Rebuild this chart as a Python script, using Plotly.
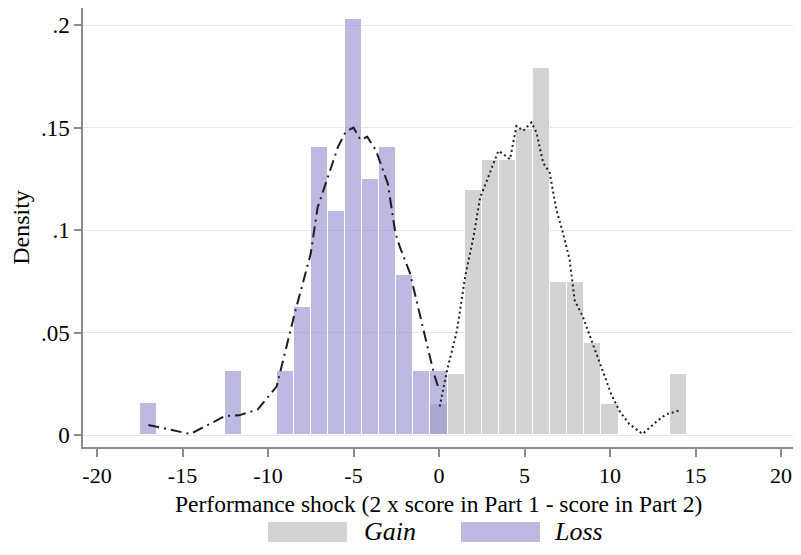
import plotly.graph_objects as go

# histogram bins (bin width 1, centred on integers) and densities
gain_x = [0, 1, 2, 3, 4, 5, 6, 7, 8, 9, 10, 14]
gain_y = [0.0149, 0.0299, 0.1194, 0.1343, 0.1343, 0.1493, 0.1791, 0.0746, 0.0746, 0.0448, 0.0149, 0.0299]

loss_x = [-17, -12, -9, -8, -7, -6, -5, -4, -3, -2, -1, 0]
loss_y = [0.0156, 0.0313, 0.0313, 0.0625, 0.1406, 0.1094, 0.2031, 0.125, 0.1406, 0.0781, 0.0313, 0.0313]

# kernel density curves
loss_kx = [-17.0, -14.55, -12.5, -11.7, -10.6, -9.5, -8.45, -7.5, -7.1, -6.5, -5.9, -5.45,
           -5.0, -4.6, -4.2, -3.7, -3.0, -2.55, -2.3, -1.7, -0.9, -0.3, 0.0]
loss_ky = [0.0049, 0.0005, 0.0093, 0.0096, 0.0125, 0.0236, 0.059, 0.0886, 0.111, 0.126, 0.1407, 0.148,
           0.150, 0.144, 0.1455, 0.139, 0.1228, 0.0984, 0.092, 0.079, 0.051, 0.030, 0.022]

gain_kx = [0.04, 0.47, 1.05, 1.53, 2.02, 2.40, 2.79, 3.47, 3.76, 4.15, 4.53, 4.92, 5.41, 5.70, 6.09,
           6.47, 6.86, 7.25, 7.64, 7.93, 8.41, 8.99, 9.58, 10.06, 10.54, 11.12, 11.90, 12.67, 13.26, 14.03]
gain_ky = [0.0139, 0.0315, 0.051, 0.0773, 0.0969, 0.1157, 0.1239, 0.1386, 0.137, 0.1345, 0.1508, 0.1484,
           0.1525, 0.1475, 0.1328, 0.128, 0.110, 0.0985, 0.0855, 0.0658, 0.0577, 0.0446, 0.0315, 0.0201,
           0.0119, 0.0054, 0.0005, 0.0062, 0.010, 0.0119]

x_ticks = [-20, -15, -10, -5, 0, 5, 10, 15, 20]
x_labels = ["-20", "-15", "-10", "-5", "0", "5", "10", "15", "20"]
y_ticks = [0, 0.05, 0.1, 0.15, 0.2]
y_labels = ["0", ".05", ".1", ".15", ".2"]

x_title = "Performance shock (2 x score in Part 1 - score in Part 2)"
legend_names = ["Gain", "Loss"]

GAIN_COL = "#d3d3d3"
LOSS_COL = "rgba(145,138,205,0.6)"
FONT = "Liberation Serif"
AXIS_COL = "#8c8c8c"

fig = go.Figure()
fig.add_trace(go.Bar(x=gain_x, y=gain_y, width=1, name="Gain",
                     marker=dict(color=GAIN_COL, line=dict(color="white", width=1))))
fig.add_trace(go.Bar(x=loss_x, y=loss_y, width=1, name="Loss",
                     marker=dict(color=LOSS_COL, line=dict(color="white", width=1))))
fig.add_trace(go.Scatter(x=loss_kx, y=loss_ky, mode="lines",
                         line=dict(color="#1e1e1e", width=2, dash="11px,5px,2px,5px")))
fig.add_trace(go.Scatter(x=gain_kx, y=gain_ky, mode="lines",
                         line=dict(color="#1e1e1e", width=2, dash="2px,3px")))

# x title as annotation so it can sit close under the tick labels
fig.add_annotation(xref="paper", yref="paper", x=0.5, y=-0.1298, text=x_title,
                   showarrow=False, xanchor="center", yanchor="middle",
                   font=dict(family=FONT, size=23.5, color="black"))

# legend drawn by hand: wide swatches like the original
sw = [(0.2606, 0.3718, 0.393, GAIN_COL), (0.5324, 0.6437, 0.6606, LOSS_COL)]
for (x0, x1, xt, col), name in zip(sw, legend_names):
    fig.add_shape(type="rect", xref="paper", yref="paper", x0=x0, x1=x1,
                  y0=-0.2164, y1=-0.1708, fillcolor=col, line=dict(width=0))
    fig.add_annotation(xref="paper", yref="paper", x=xt, y=-0.1936,
                       text="<i>%s</i>" % name, showarrow=False, xanchor="left",
                       yanchor="middle", font=dict(family=FONT, size=26, color="black"))

# page body has an 8px margin, keep the figure small enough to avoid scrollbars
fig.update_layout(
    width=785, height=539,
    margin=dict(l=75, r=0, t=0, b=100),
    paper_bgcolor="white", plot_bgcolor="white",
    barmode="overlay", bargap=0, showlegend=False,
    font=dict(family=FONT, size=22, color="black"),
)
fig.update_xaxes(range=[-20.82, 20.70], tickvals=x_ticks, ticktext=x_labels, automargin=False,
                 showgrid=False, zeroline=False, showline=True, linecolor=AXIS_COL, linewidth=1.5,
                 ticks="outside", ticklen=8, tickcolor=AXIS_COL, tickwidth=1.5,
                 ticklabeloverflow="allow", tickfont=dict(family=FONT, size=22))
fig.update_yaxes(range=[-0.00585, 0.2083], tickvals=y_ticks, ticktext=y_labels, automargin=False,
                 showgrid=True, gridcolor="#e6e6e6", gridwidth=1, zeroline=False,
                 showline=True, linecolor=AXIS_COL, linewidth=1.5,
                 ticks="outside", ticklen=7, tickcolor=AXIS_COL, tickwidth=1.5,
                 tickfont=dict(family=FONT, size=23),
                 title=dict(text="Density", font=dict(family=FONT, size=24), standoff=10))

fig.write_html("out.html")
